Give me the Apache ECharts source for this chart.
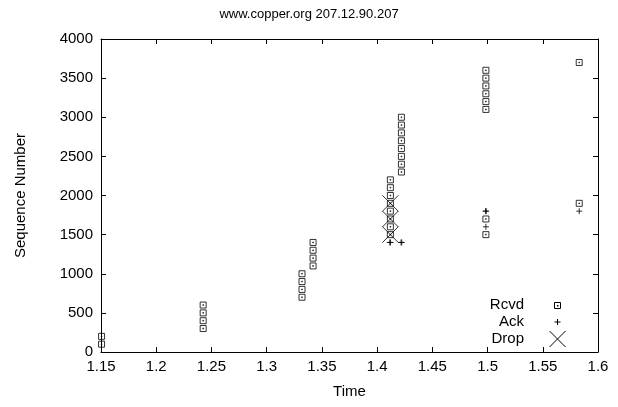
<!DOCTYPE html>
<html>
<head>
<meta charset="utf-8">
<script src="https://cdn.jsdelivr.net/npm/echarts@6/dist/echarts.min.js"></script>
<style>
  html, body { margin: 0; padding: 0; background: #fff; }
  #chart { width: 618px; height: 407px; }
</style>
</head>
<body>
<div id="chart"></div>
<script>
// Received segments: time (s) and sequence number
const rcvdTime = [1.1505, 1.1505,
                  1.2425, 1.2425, 1.2425, 1.2425,
                  1.332, 1.332, 1.332, 1.332,
                  1.342, 1.342, 1.342, 1.342,
                  1.412, 1.412, 1.412, 1.412, 1.412, 1.412, 1.412, 1.412,
                  1.422, 1.422, 1.422, 1.422, 1.422, 1.422, 1.422, 1.422,
                  1.4985, 1.4985, 1.4985, 1.4985, 1.4985, 1.4985, 1.4985, 1.4985,
                  1.583, 1.583];
const rcvdSeq  = [100, 200,
                  300, 400, 500, 600,
                  700, 800, 900, 1000,
                  1100, 1200, 1300, 1400,
                  1500, 1600, 1700, 1800, 1900, 2000, 2100, 2200,
                  2300, 2400, 2500, 2600, 2700, 2800, 2900, 3000,
                  1500, 1700, 3100, 3200, 3300, 3400, 3500, 3600,
                  1900, 3700];

// Acknowledgements
const ackTime = [1.4115, 1.4121, 1.4217, 1.4223, 1.4985, 1.4982, 1.4988, 1.583];
const ackSeq  = [1400, 1400, 1400, 1400, 1600, 1800, 1800, 1800];

// Dropped segments
const dropTime = [1.412, 1.412, 1.412];
const dropSeq  = [1500, 1700, 1900];

// Axis ticks
const xTicks = [1.15, 1.2, 1.25, 1.3, 1.35, 1.4, 1.45, 1.5, 1.55, 1.6];
const yTicks = [0, 500, 1000, 1500, 2000, 2500, 3000, 3500, 4000];

const legendNames = ['Rcvd', 'Ack', 'Drop'];

const FONT = 'Liberation Sans, Arial, Helvetica, sans-serif';
const FS = 15;
const BOX_SYM = 'path://M0,0H8V8H0Z M3.5,3.5H4.5V4.5H3.5Z';
const PLUS_SYM = 'path://M4,0V8M0,4H8';
const CROSS_SYM = 'path://M0,0L8,8M8,0L0,8';

const zip = (xs, ys) => xs.map((x, i) => [x, ys[i]]);
const fmtX = v => String(parseFloat(Number(v).toFixed(2)));
const fmtY = v => String(Math.round(v));

const lineStyle = { color: '#000', width: 1 };
const tickStyle = { show: true, inside: true, length: 5, lineStyle: lineStyle };

const xBase = {
  type: 'value',
  min: xTicks[0],
  max: xTicks[xTicks.length - 1],
  interval: 0.05,
  axisLine: { show: true, onZero: false, lineStyle: lineStyle },
  axisTick: tickStyle,
  splitLine: { show: false }
};
const yBase = {
  type: 'value',
  min: yTicks[0],
  max: yTicks[yTicks.length - 1],
  interval: 500,
  axisLine: { show: true, onZero: false, lineStyle: lineStyle },
  axisTick: tickStyle,
  splitLine: { show: false }
};

const stroke = { color: 'none', borderColor: '#000', borderWidth: 1 };
const keyText = (label, y) => ({
  type: 'text', x: 524, y: y,
  style: { text: label, align: 'right', verticalAlign: 'middle', font: FS + 'px ' + FONT, fill: '#000' }
});
const keyLine = pts => ({
  type: 'polyline', shape: { points: pts }, style: { stroke: '#000', lineWidth: 1 }
});

const chart = echarts.init(document.getElementById('chart'), null, { renderer: 'canvas' });
chart.setOption({
  animation: false,
  backgroundColor: '#fff',
  title: {
    text: 'www.copper.org 207.12.90.207',
    left: 'center',
    top: 3,
    textStyle: { fontFamily: FONT, fontSize: 13, fontWeight: 'normal', color: '#000' }
  },
  grid: { left: 101, right: 20, top: 39, bottom: 55 },
  xAxis: [
    Object.assign({}, xBase, {
      position: 'bottom',
      name: 'Time',
      nameLocation: 'middle',
      nameGap: 32,
      nameTextStyle: { fontFamily: FONT, fontSize: FS, color: '#000' },
      axisLabel: { margin: 7, fontFamily: FONT, fontSize: FS, color: '#000', formatter: fmtX }
    }),
    Object.assign({}, xBase, { position: 'top', axisLabel: { show: false } })
  ],
  yAxis: [
    Object.assign({}, yBase, {
      position: 'left',
      name: 'Sequence Number',
      nameLocation: 'middle',
      nameGap: 73,
      nameTextStyle: { fontFamily: FONT, fontSize: FS, color: '#000' },
      axisLabel: { margin: 8, fontFamily: FONT, fontSize: FS, color: '#000', formatter: fmtY }
    }),
    Object.assign({}, yBase, { position: 'right', axisLabel: { show: false } })
  ],
  series: [
    {
      name: legendNames[0], type: 'scatter', clip: false,
      symbol: BOX_SYM, symbolSize: 6,
      itemStyle: stroke,
      data: zip(rcvdTime, rcvdSeq)
    },
    {
      name: legendNames[1], type: 'scatter', clip: false,
      symbol: PLUS_SYM, symbolSize: 6,
      itemStyle: stroke,
      data: zip(ackTime, ackSeq)
    },
    {
      name: legendNames[2], type: 'scatter', clip: false,
      symbol: CROSS_SYM, symbolSize: 16,
      itemStyle: stroke,
      data: zip(dropTime, dropSeq)
    }
  ],
  // Key in the lower right of the plot: right-aligned labels, sample marks beside them
  graphic: [
    keyText(legendNames[0], 305),
    keyText(legendNames[1], 322),
    keyText(legendNames[2], 339),
    { type: 'rect', shape: { x: 554.5, y: 302.5, width: 6, height: 6 },
      style: { fill: 'none', stroke: '#000', lineWidth: 1 } },
    { type: 'rect', shape: { x: 557, y: 305, width: 1.5, height: 1.5 }, style: { fill: '#000' } },
    keyLine([[557.5, 319], [557.5, 325]]),
    keyLine([[554.5, 322], [560.5, 322]]),
    keyLine([[549.5, 331], [565.5, 347]]),
    keyLine([[565.5, 331], [549.5, 347]])
  ]
});
</script>
</body>
</html>
